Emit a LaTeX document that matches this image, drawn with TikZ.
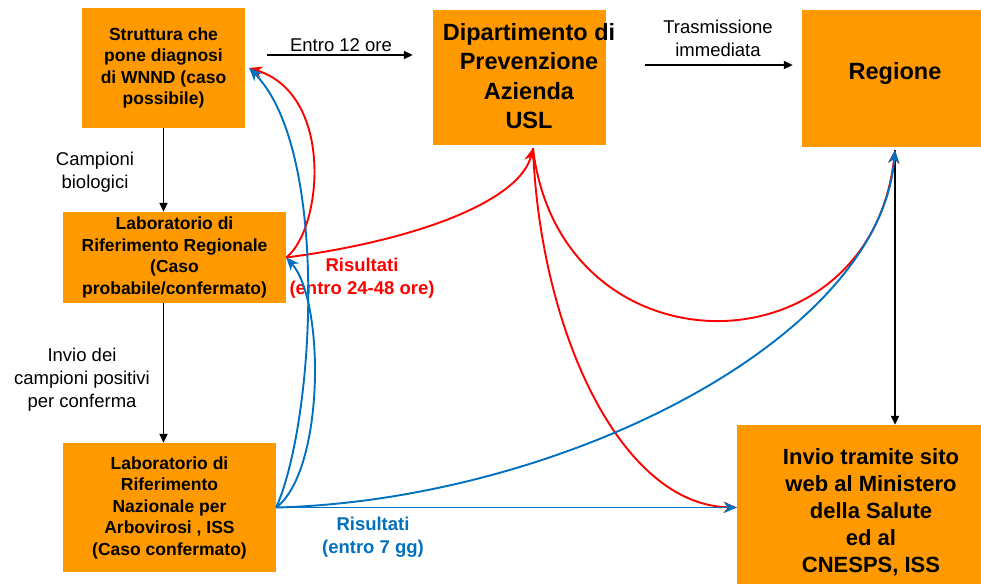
\documentclass[tikz,border=0pt]{standalone}
\usepackage{fontspec}
\setmainfont{Liberation Sans}
\usetikzlibrary{arrows.meta,calc}
\definecolor{boxorange}{HTML}{FF9900}
\definecolor{lblue}{HTML}{0070C0}
\definecolor{lred}{HTML}{FF0000}
\begin{document}
\begin{tikzpicture}[x=1pt,y=-1pt,
 box/.style={fill=boxorange, draw=none, inner sep=0pt, align=center, font=\bfseries\fontsize{17.5}{21.5}\selectfont},
 big/.style={align=center, inner sep=0pt, font=\bfseries\fontsize{23.5}{29.5}\selectfont},
 bigb/.style={align=center, inner sep=0pt, font=\bfseries\fontsize{22}{27}\selectfont},
 lab/.style={align=center, inner sep=0pt, font=\fontsize{18.5}{23}\selectfont},
 rlab/.style={align=center, inner sep=0pt, text=lred, font=\bfseries\fontsize{18.5}{23}\selectfont},
 blab/.style={align=center, inner sep=0pt, text=lblue, font=\bfseries\fontsize{18.5}{23}\selectfont},
 blk/.style={draw=black, line width=1.7pt, -{Triangle[length=9pt,width=8pt]}},
 redc/.style={draw=lred, line width=1.9pt, -{Stealth[length=13pt,width=11pt]}},
 bluec/.style={draw=lblue, line width=1.9pt, -{Stealth[length=13pt,width=11pt]}},
]
\useasboundingbox (0,0) rectangle (981,584);

% boxes
\node[box, minimum width=163pt, minimum height=120pt] (strut) at (163.5,68)
  {Struttura che\\pone diagnosi\\di WNND (caso\\possibile)};
\node[box, minimum width=223pt, minimum height=91pt] (labreg) at (174.5,257.5)
  {Laboratorio di\\Riferimento Regionale\\(Caso\\probabile/confermato)};
\node[box, minimum width=213pt, minimum height=129pt] (labnaz) at (169.5,507.5)
  {Laboratorio di\\Riferimento\\Nazionale per\\Arbovirosi , ISS\\(Caso confermato)};
\node[box, minimum width=173pt, minimum height=135pt] (dip) at (519.5,77.5) {};
\node[big] (dipt) at (529,76) {Dipartimento di\\Prevenzione\\Azienda\\USL};
\node[box, minimum width=179pt, minimum height=137pt] (reg) at (891.5,78.5) {};
\node[big] (regt) at (895,73) {Regione};
\node[box, minimum width=244pt, minimum height=159pt] (inv) at (859,504.5) {};
\node[bigb] (invt) at (871,512.5) {Invio tramite sito\\web al Ministero\\della Salute\\ed al\\CNESPS, ISS};

% key points
\coordinate (A) at (labreg.east);
\coordinate (S) at ([xshift=4pt]strut.east);
\coordinate (D) at ($(dip.south)+(13.5,3)$);
\coordinate (R) at ($(reg.south)+(3.5,3)$);
\coordinate (N) at (labnaz.east);
\coordinate (I) at (inv.west |- labnaz.east);
\coordinate (e1) at ($(strut.east)+(22,-13)$);
\coordinate (t1) at ($(dip.east)+(39,-12.5)$);

% black arrows
\draw[blk] (e1) -- ($(e1 -| dip.west)+(-20,0)$);
\draw[blk] (t1) -- ($(t1 -| reg.west)+(-9,0)$);
\draw[blk] (strut.south) -- (strut.south |- labreg.north);
\draw[blk] (strut.south |- labreg.south) -- (strut.south |- labnaz.north);
\draw[blk] (R) -- (R |- inv.north);

% labels
\node[lab] (l1) at (341,45) {Entro 12 ore};
\node[lab] (l2) at (718,38.5) {Trasmissione\\immediata};
\node[lab] (l3) at (95,172) {Campioni\\biologici};
\node[lab] (l4) at (82,380) {Invio dei\\campioni positivi\\per conferma};
\node[rlab] (l5) at (362,278) {Risultati\\(entro 24-48 ore)};
\node[blab] (l6) at (373,537.5) {Risultati\\(entro 7 gg)};

% red curves
\draw[redc] (A) .. controls (322,230) and (335,95) .. (S);
\draw[redc] (A) .. controls (420,240) and (520,200) .. (D);
\draw[redc] (D) .. controls (560,377) and (870,377) .. (R);
\draw[redc] (D) .. controls (540,330) and (620,505) .. (I);

% blue curves
\draw[bluec] (N) .. controls (315,420) and (330,150) .. (S);
\draw[bluec] (N) .. controls (325,470) and (325,300) .. (A);
\draw[bluec] (N) .. controls (560,500) and (880,340) .. (R);
\draw[bluec] (N) -- (I);
\end{tikzpicture}
\end{document}
